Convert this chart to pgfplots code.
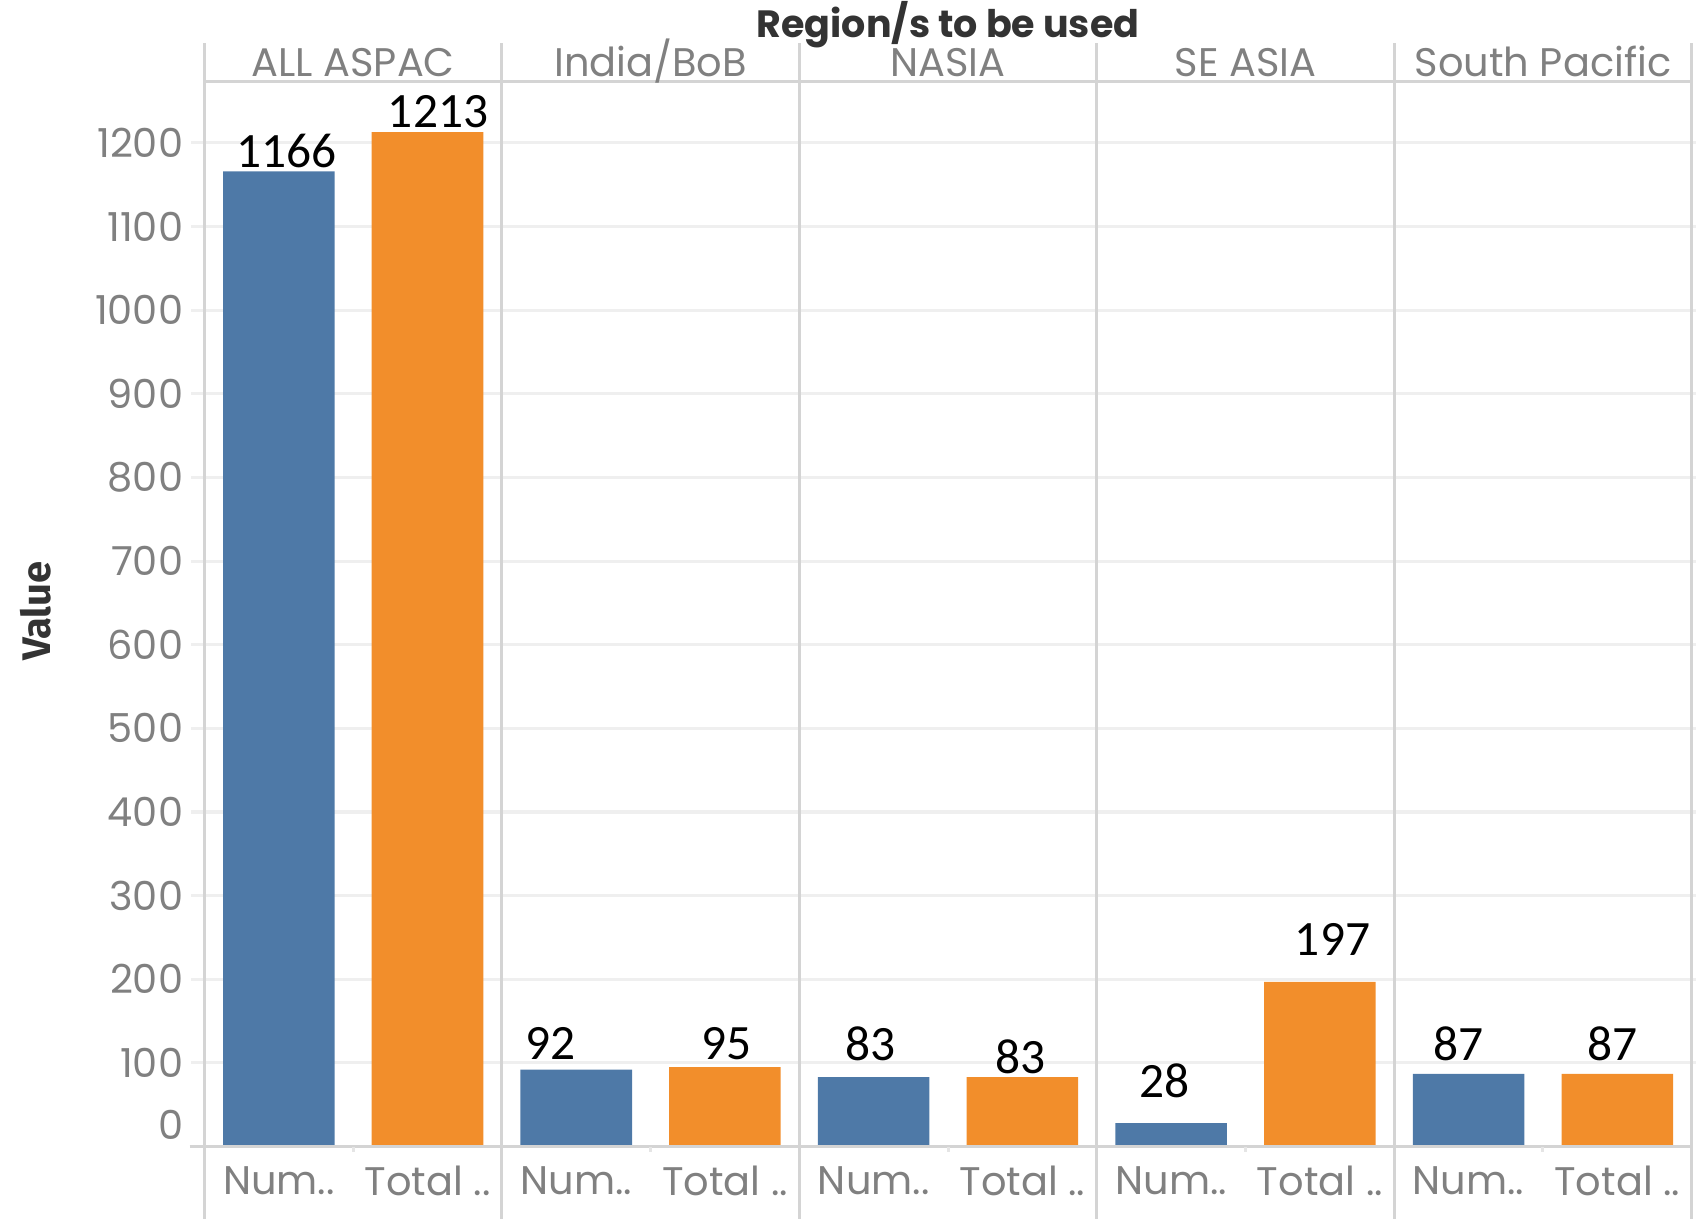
\documentclass[border=0pt]{standalone}
\usepackage{pgfplots}
\pgfplotsset{compat=1.18}
\usepackage{fontspec}
\setmainfont{Poppins}
\newfontfamily\carlito{Carlito}
\newfontfamily\fira{Fira Sans}
\definecolor{tabblue}{HTML}{4E79A7}
\definecolor{taborange}{HTML}{F28E2B}
\definecolor{gridc}{HTML}{EFEFEF}
\definecolor{sepc}{HTML}{D4D4D4}
\definecolor{tickc}{HTML}{808080}
\definecolor{titlec}{HTML}{333333}
\tikzset{
  dlab/.style={font=\carlito\fontsize{13}{15}\selectfont, anchor=center, inner sep=0pt},
  hlab/.style={font=\fontsize{10.5}{12}\selectfont, text=tickc, anchor=base, inner sep=0pt},
}
\begin{document}
\begin{tikzpicture}
\begin{axis}[
  at={(0,0)}, anchor=south west,
  scale only axis, width=13.75cm, height=9.85cm,
  xmin=0, xmax=10, ymin=0, ymax=1274,
  clip=false,
  axis line style={draw=none},
  /pgf/number format/assume math mode=true,
  /pgf/number format/1000 sep={},
  ytick={100,200,...,1200},
  ymajorgrids, grid style={color=gridc, line width=0.8pt},
  tick align=outside, major tick length=0.12cm,
  ytick style={color=gridc, line width=0.8pt},
  yticklabel style={font=\fontsize{10.5}{12}\selectfont, text=tickc, inner sep=0pt, xshift=-0.07cm},
  extra y ticks={0},
  extra y tick style={grid=none, tick style={draw=none}, yticklabel style={yshift=0.2cm}},
  xtick={0.5,1.5,...,9.5},
  xticklabels={Num..,Total ..,Num..,Total ..,Num..,Total ..,Num..,Total ..,Num..,Total ..},
  xtick style={draw=none},
  xticklabel style={font=\fontsize{10.5}{12}\selectfont, text=tickc, anchor=center, yshift=-0.2cm},
  ybar, bar width=0.75,
]
\addplot[fill=tabblue, draw=none, bar shift=0pt] coordinates {(0.5,1166) (2.5,92) (4.5,83) (6.5,28) (8.5,87)};
\addplot[fill=taborange, draw=none, bar shift=0pt] coordinates {(1.5,1213) (3.5,95) (5.5,83) (7.5,197) (9.5,87)};
% frame lines
\pgfplotsinvokeforeach{0,2,4,6,8,10}{
  \draw[sepc, line width=0.8pt] (axis cs:#1,-87) -- (axis cs:#1,1319);
}
\draw[sepc, line width=0.8pt] (axis cs:0,1274) -- (axis cs:10,1274);
\draw[sepc, line width=0.8pt] (axis cs:-0.1,0) -- (axis cs:10,0);
\pgfplotsinvokeforeach{1,3,5,7,9}{
  \draw[sepc!60!white, line width=0.8pt] (axis cs:#1,0) -- (axis cs:#1,-6);
}
% panel headers
\node[hlab] at (axis cs:1,1280) {ALL ASPAC};
\node[hlab] at (axis cs:3,1280) {India/BoB};
\node[hlab] at (axis cs:5,1280) {NASIA};
\node[hlab] at (axis cs:7,1280) {SE ASIA};
\node[hlab] at (axis cs:9,1280) {South Pacific};
\node[font=\fontsize{10}{12}\selectfont\bfseries, text=titlec] at (axis cs:5,1342) {Region/s to be used};
\node[font=\fira\fontsize{10.5}{12}\selectfont\bfseries, text=titlec, rotate=90] at (axis cs:-1.135,640) {Value};
% data labels
\node[dlab] at (axis cs:0.553,1190) {1166};
\node[dlab] at (axis cs:1.571,1238) {1213};
\node[dlab] at (axis cs:2.327,123) {92};
\node[dlab] at (axis cs:3.513,123) {95};
\node[dlab] at (axis cs:4.48,123) {83};
\node[dlab] at (axis cs:5.49,107) {83};
\node[dlab] at (axis cs:6.458,78) {28};
\node[dlab] at (axis cs:7.585,248) {197};
\node[dlab] at (axis cs:8.43,123) {87};
\node[dlab] at (axis cs:9.469,123) {87};
\end{axis}
\pgfresetboundingbox
\path (-1.89,-0.67) rectangle (13.79,10.6);
\end{tikzpicture}
\end{document}
